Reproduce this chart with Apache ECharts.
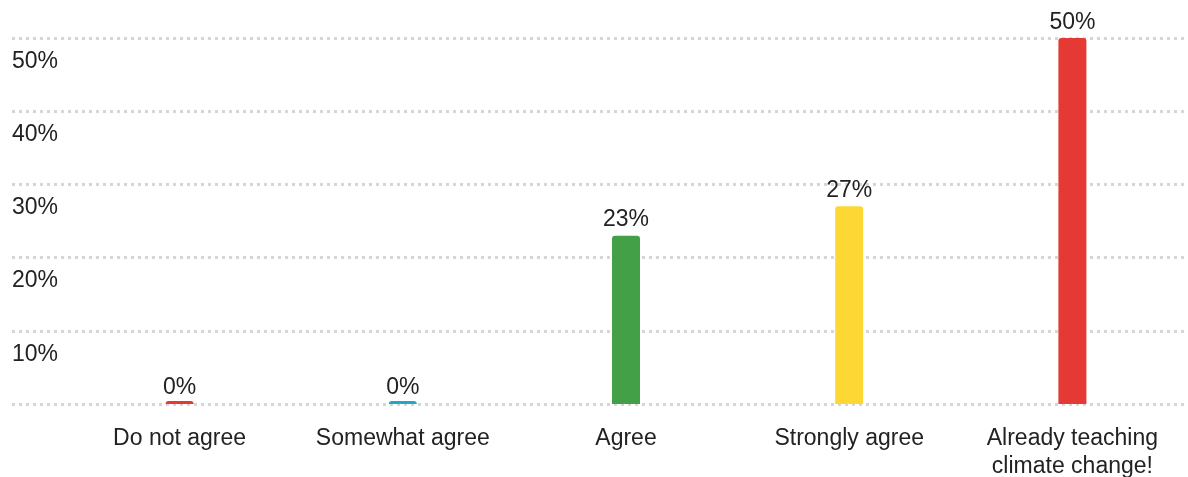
<!DOCTYPE html>
<html>
<head>
<meta charset="utf-8">
<script src="https://cdn.jsdelivr.net/npm/echarts@6/dist/echarts.min.js"></script>
<style>
  html, body { margin: 0; padding: 0; background: #fff; }
  #chart { width: 1188px; height: 477px; }
</style>
</head>
<body>
<div id="chart"></div>
<script>
// Survey responses: share of teachers per answer
const categories = ['Do not agree', 'Somewhat agree', 'Agree', 'Strongly agree', 'Already teaching\nclimate change!'];
const values = [0, 0, 23, 27, 50];
const barColors = ['#e53935', '#1fa9c2', '#43a047', '#fdd835', '#e53935'];
const yTicks = [0, 10, 20, 30, 40, 50];

const yMin = yTicks[0];
const yMax = yTicks[yTicks.length - 1];
const yStep = yTicks[1] - yTicks[0];

const chart = echarts.init(document.getElementById('chart'), null, { renderer: 'canvas' });

const FONT = '"Liberation Sans", Arial, sans-serif';
const TEXT = '#222222';

chart.setOption({
  animation: false,
  backgroundColor: '#ffffff',
  grid: [
    // full-width grid carrying the dotted gridlines and percentage labels
    { left: 12, right: 3, top: 38, bottom: 73, containLabel: false, outerBoundsMode: 'none' },
    // grid holding the bars
    { left: 68, right: 4, top: 38, bottom: 73, containLabel: false, outerBoundsMode: 'none' }
  ],
  xAxis: [
    { gridIndex: 0, type: 'category', data: categories, show: false },
    {
      gridIndex: 1,
      type: 'category',
      data: categories,
      axisLine: { show: false },
      axisTick: { show: false },
      axisLabel: {
        color: TEXT,
        fontFamily: FONT,
        fontSize: 23,
        lineHeight: 28,
        margin: 21,
        interval: 0
      }
    }
  ],
  yAxis: [
    {
      gridIndex: 0,
      type: 'value',
      min: yMin,
      max: yMax,
      interval: yStep,
      axisLine: { show: false },
      axisTick: { show: false },
      axisLabel: {
        inside: true,
        margin: 0,
        color: TEXT,
        fontFamily: FONT,
        fontSize: 23,
        verticalAlign: 'top',
        padding: [12, 0, 0, 0],
        formatter: v => (v === yMin ? '' : v + '%')
      },
      splitLine: {
        show: true,
        lineStyle: { color: '#d6d6d6', width: 3, type: [3, 4] }
      }
    },
    {
      gridIndex: 1,
      type: 'value',
      min: yMin,
      max: yMax,
      interval: yStep,
      show: false,
      splitLine: { show: false }
    }
  ],
  series: [
    {
      type: 'bar',
      xAxisIndex: 1,
      yAxisIndex: 1,
      barWidth: 28,
      barMinHeight: 3,
      data: values.map((v, i) => ({
        value: v,
        itemStyle: { color: barColors[i], borderRadius: [3, 3, 0, 0] },
        // zero-height stubs keep their label close to the baseline
        label: { distance: v === 0 ? 2 : 4 }
      })),
      label: {
        show: true,
        position: 'top',
        distance: 4,
        color: TEXT,
        fontFamily: FONT,
        fontSize: 23,
        formatter: p => p.value + '%'
      }
    }
  ]
});
</script>
</body>
</html>
